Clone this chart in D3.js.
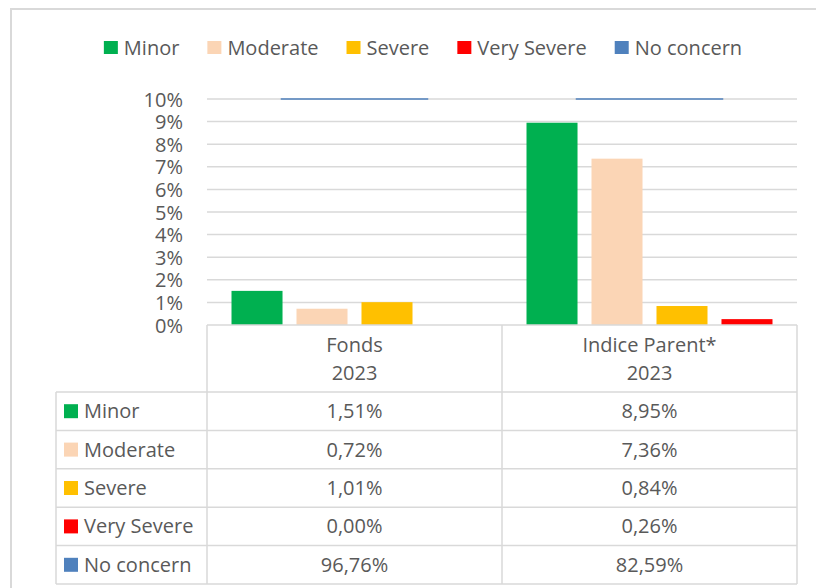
<!DOCTYPE html>
<html>
<head>
  <meta charset="UTF-8">
  <title>Controversies chart</title>
  <script src="https://d3js.org/d3.v7.min.js"></script>
  <style>
    body {
      margin: 0;
      background: #fff;
    }
    svg text {
      font-family: "Open Sans", sans-serif;
      font-size: 20px;
      fill: #595959;
    }
    .grid line {
      stroke: #d9d9d9;
      stroke-width: 1.5;
    }
    .cell-line {
      stroke: #d9d9d9;
      stroke-width: 1.5;
    }
  </style>
</head>
<body>
  <div id="chart"></div>
  <script>
    const categories = ["Fonds", "Indice Parent*"];
    const years = ["2023", "2023"];
    const series = ["Minor", "Moderate", "Severe", "Very Severe", "No concern"];
    const colors = ["#00b050", "#fbd5b5", "#ffc000", "#ff0000", "#4f81bd"];
    const fondsValues = [1.51, 0.72, 1.01, 0.00, 96.76];
    const parentValues = [8.95, 7.36, 0.84, 0.26, 82.59];
    const yTicks = [0, 1, 2, 3, 4, 5, 6, 7, 8, 9, 10];

    const values = [fondsValues, parentValues];
    const barSeries = series.slice(0, 4);   // clustered bars
    const lineSeries = series[4];           // "No concern", on its own wide band

    const W = 816, H = 588;
    const plot = { left: 207, right: 797, top: 99, bottom: 325 };
    const table = { left: 56, headerBottom: 392, bottom: 584 };

    const svg = d3.select("#chart").append("svg")
      .attr("width", W)
      .attr("height", H);

    // outer chart border
    svg.append("rect")
      .attr("x", 11).attr("y", 9)
      .attr("width", W).attr("height", H)
      .attr("fill", "none")
      .attr("stroke", "#d9d9d9")
      .attr("stroke-width", 2);

    const x0 = d3.scaleBand()
      .domain(categories)
      .range([plot.left, plot.right]);

    const x1 = d3.scaleBand()
      .domain(barSeries)
      .range([0, x0.bandwidth()])
      .paddingInner(0.215)
      .paddingOuter(0.377);

    const y = d3.scaleLinear()
      .domain([0, 10])
      .range([plot.bottom, plot.top]);

    // gridlines
    svg.append("g")
      .attr("class", "grid")
      .selectAll("line")
      .data(yTicks.slice(1))
      .enter()
      .append("line")
      .attr("x1", plot.left)
      .attr("x2", plot.right)
      .attr("y1", d => y(d))
      .attr("y2", d => y(d));

    // y axis labels
    const yAxis = d3.axisLeft(y)
      .tickValues(yTicks)
      .tickFormat(d => d + "%")
      .tickSize(0)
      .tickPadding(0);

    const yAxisG = svg.append("g")
      .attr("transform", `translate(183,0)`)
      .call(yAxis);
    yAxisG.select(".domain").remove();
    yAxisG.selectAll("text")
      .attr("fill", "#595959")
      .style("font-size", "20px")
      .attr("dy", "0.35em");

    // bars
    categories.forEach((cat, ci) => {
      const g = svg.append("g").attr("transform", `translate(${x0(cat)},0)`);
      g.selectAll("rect")
        .data(barSeries.map((s, si) => ({ s, v: values[ci][si], c: colors[si] })))
        .enter()
        .append("rect")
        .attr("x", d => x1(d.s))
        .attr("y", d => y(d.v))
        .attr("width", x1.bandwidth())
        .attr("height", d => y(0) - y(d.v))
        .attr("fill", d => d.c);

      // "No concern" exceeds the axis max, only its clipped top edge shows
      const v = values[ci][4];
      const bw = x0.bandwidth() / 2;
      g.append("line")
        .attr("x1", (x0.bandwidth() - bw) / 2)
        .attr("x2", (x0.bandwidth() + bw) / 2)
        .attr("y1", y(Math.min(v, y.domain()[1])))
        .attr("y2", y(Math.min(v, y.domain()[1])))
        .attr("stroke", colors[4])
        .attr("stroke-width", 1.5);
    });

    // legend
    const legend = svg.append("g");
    let lx = 0;
    series.forEach((s, i) => {
      const item = legend.append("g").attr("transform", `translate(${lx},0)`);
      item.append("rect")
        .attr("x", 0).attr("y", 41)
        .attr("width", 14).attr("height", 13)
        .attr("fill", colors[i]);
      const t = item.append("text")
        .attr("x", 20).attr("y", 48)
        .attr("dy", "0.35em")
        .text(s);
      lx += 20 + t.node().getComputedTextLength() + 28;
    });
    const legendW = lx - 28;
    legend.attr("transform", `translate(${423 - legendW / 2},0)`);

    // data table
    const rowH = (table.bottom - table.headerBottom) / series.length;
    const rowY = d3.range(series.length + 1).map(i => table.headerBottom + i * rowH);
    const tg = svg.append("g");

    // vertical lines
    [plot.left, x0(categories[1]), plot.right].forEach(xv => {
      tg.append("line").attr("class", "cell-line")
        .attr("x1", xv).attr("x2", xv)
        .attr("y1", plot.bottom).attr("y2", table.bottom);
    });
    tg.append("line").attr("class", "cell-line")
      .attr("x1", table.left).attr("x2", table.left)
      .attr("y1", table.headerBottom).attr("y2", table.bottom);

    // horizontal lines
    tg.append("line").attr("class", "cell-line")
      .attr("x1", plot.left).attr("x2", plot.right)
      .attr("y1", plot.bottom).attr("y2", plot.bottom);
    rowY.forEach(yv => {
      tg.append("line").attr("class", "cell-line")
        .attr("x1", table.left).attr("x2", plot.right)
        .attr("y1", yv).attr("y2", yv);
    });

    // header
    categories.forEach((cat, ci) => {
      const cx = x0(cat) + x0.bandwidth() / 2;
      tg.append("text").attr("x", cx).attr("y", 345)
        .attr("dy", "0.35em").attr("text-anchor", "middle").text(cat);
      tg.append("text").attr("x", cx).attr("y", 373)
        .attr("dy", "0.35em").attr("text-anchor", "middle").text(years[ci]);
    });

    const fmt = d3.format(".2f");
    series.forEach((s, si) => {
      const cy = rowY[si] + rowH / 2;
      tg.append("rect")
        .attr("x", 64).attr("y", cy - 7)
        .attr("width", 14).attr("height", 14)
        .attr("fill", colors[si]);
      tg.append("text").attr("x", 84).attr("y", cy)
        .attr("dy", "0.35em").text(s);
      categories.forEach((cat, ci) => {
        tg.append("text")
          .attr("x", x0(cat) + x0.bandwidth() / 2)
          .attr("y", cy)
          .attr("dy", "0.35em")
          .attr("text-anchor", "middle")
          .text(fmt(values[ci][si]).replace(".", ",") + "%");
      });
    });
  </script>
</body>
</html>
